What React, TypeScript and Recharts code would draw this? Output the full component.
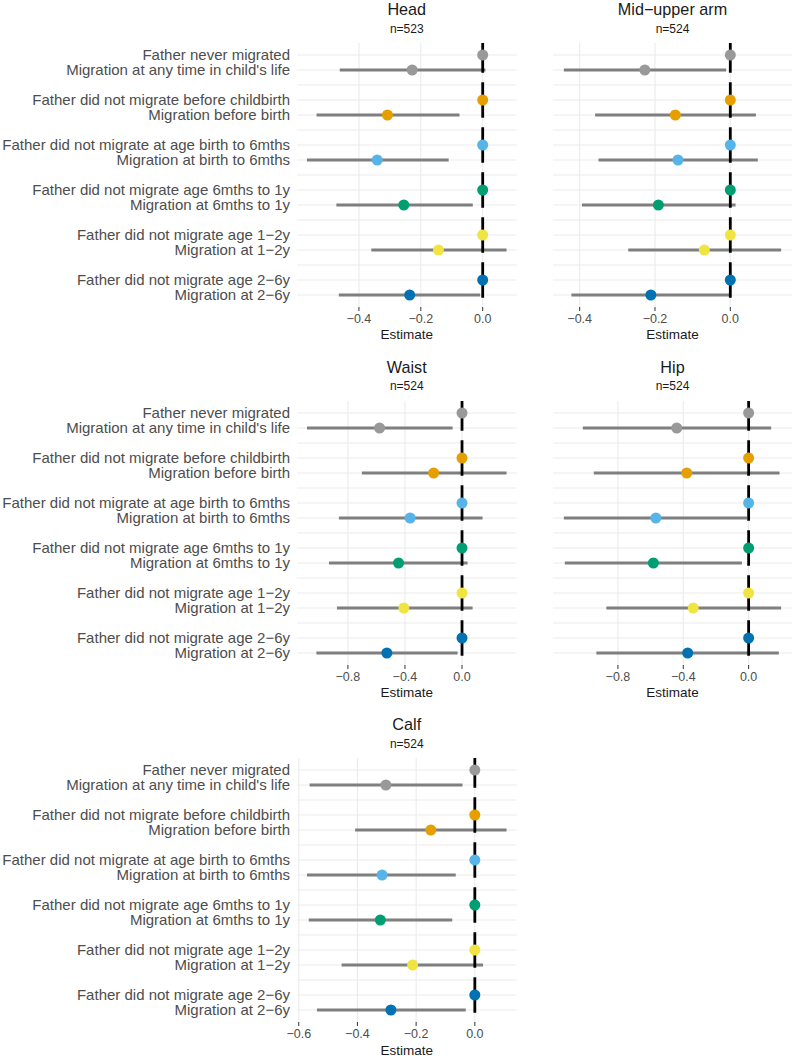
import React from 'react';
import { ScatterChart, Scatter, XAxis, YAxis, ReferenceLine } from 'recharts';

const FONT = "'Liberation Sans', Arial, Helvetica, sans-serif";

// Row labels: reference group and migration group for each comparison
const refLabels = [
  'Father never migrated',
  'Father did not migrate before childbirth',
  'Father did not migrate at age birth to 6mths',
  'Father did not migrate age 6mths to 1y',
  'Father did not migrate age 1\u22122y',
  'Father did not migrate age 2\u22126y',
];
const migLabels = [
  "Migration at any time in child's life",
  'Migration before birth',
  'Migration at birth to 6mths',
  'Migration at 6mths to 1y',
  'Migration at 1\u22122y',
  'Migration at 2\u22126y',
];
const groupColors = ['#999999', '#E69F00', '#56B4E9', '#009E73', '#F0E442', '#0072B2'];

// Head (n=523)
const headEst = [-0.228, -0.308, -0.341, -0.255, -0.143, -0.236];
const headLow = [-0.462, -0.537, -0.568, -0.473, -0.36, -0.465];
const headHigh = [0.009, -0.075, -0.11, -0.032, 0.077, -0.008];
const headTicks = [-0.4, -0.2, 0];

// Mid-upper arm (n=524)
const armEst = [-0.227, -0.146, -0.139, -0.191, -0.069, -0.211];
const armLow = [-0.442, -0.359, -0.35, -0.394, -0.271, -0.422];
const armHigh = [-0.011, 0.068, 0.073, 0.014, 0.135, -0.003];
const armTicks = [-0.4, -0.2, 0];

// Waist (n=524)
const waistEst = [-0.578, -0.199, -0.364, -0.445, -0.408, -0.527];
const waistLow = [-1.087, -0.702, -0.863, -0.933, -0.877, -1.021];
const waistHigh = [-0.066, 0.312, 0.144, 0.039, 0.074, -0.031];
const waistTicks = [-0.8, -0.4, 0];

// Hip (n=524)
const hipEst = [-0.44, -0.379, -0.568, -0.583, -0.339, -0.373];
const hipLow = [-1.015, -0.948, -1.131, -1.125, -0.871, -0.932];
const hipHigh = [0.138, 0.189, -0.01, -0.041, 0.199, 0.185];
const hipTicks = [-0.8, -0.4, 0];

// Calf (n=524)
const calfEst = [-0.303, -0.15, -0.316, -0.322, -0.212, -0.286];
const calfLow = [-0.563, -0.408, -0.572, -0.566, -0.454, -0.538];
const calfHigh = [-0.042, 0.108, -0.065, -0.077, 0.028, -0.031];
const calfTicks = [-0.6, -0.4, -0.2, 0];

const rowLabels: string[] = [];
refLabels.forEach((r, g) => {
  rowLabels.push(r);
  rowLabels.push(migLabels[g]);
  if (g < refLabels.length - 1) rowLabels.push('');
});

type PanelDef = {
  title: string;
  n: number;
  est: number[];
  low: number[];
  high: number[];
  ticks: number[];
  col: number;
  row: number;
};

const panels: PanelDef[] = [
  { title: 'Head', n: 523, est: headEst, low: headLow, high: headHigh, ticks: headTicks, col: 0, row: 0 },
  { title: 'Mid\u2212upper arm', n: 524, est: armEst, low: armLow, high: armHigh, ticks: armTicks, col: 1, row: 0 },
  { title: 'Waist', n: 524, est: waistEst, low: waistLow, high: waistHigh, ticks: waistTicks, col: 0, row: 1 },
  { title: 'Hip', n: 524, est: hipEst, low: hipLow, high: hipHigh, ticks: hipTicks, col: 1, row: 1 },
  { title: 'Calf', n: 524, est: calfEst, low: calfLow, high: calfHigh, ticks: calfTicks, col: 0, row: 2 },
];

const ROW_PITCH = 357.7;
const CHART_TOP = 35;
const MARGIN_TOP = 8;
const PLOT_H = 264;
const XAXIS_H = 30;
const CHART_H = MARGIN_TOP + PLOT_H + XAXIS_H;

const fmt = (v: number) => (Math.abs(v) < 1e-9 ? '0.0' : v.toFixed(1).replace('-', '\u2212'));

function paddedDomain(lo: number[], hi: number[]): [number, number] {
  const mn = Math.min(0, ...lo);
  const mx = Math.max(0, ...hi);
  const pad = (mx - mn) * 0.05;
  return [mn - pad, mx + pad];
}

function layout(p: PanelDef) {
  const left = p.col === 0 ? 0 : 553;
  const width = p.col === 0 ? 520 : 239;
  const yAxisW = p.col === 0 ? 297 : 0;
  const marginRight = p.col === 0 ? 3.5 : 0;
  const plotW = width - yAxisW - marginRight;
  const top = p.row * ROW_PITCH;
  return { left, width, yAxisW, marginRight, plotW, top, cx: left + yAxisW + plotW / 2 };
}

function YTick(props: any) {
  const { x, y, payload } = props;
  const label = rowLabels[Math.round(payload.value)];
  if (!label) return <g />;
  return (
    <text x={x} y={y} dy="0.36em" textAnchor="end" fill="#4D4D4D" fontSize={15} fontFamily={FONT}>
      {label}
    </text>
  );
}

function Dot(s: any) {
  const cx = s.cx ?? s.x + (s.width || 0) / 2;
  const cy = s.cy ?? s.y + (s.height || 0) / 2;
  return <circle cx={cx} cy={cy} r={5.5} fill={s.payload.color} />;
}

function Panel({ p }: { p: PanelDef }) {
  const L = layout(p);
  const domain = paddedDomain(p.low, p.high);
  const yDomain: [number, number] = [-0.8, rowLabels.length - 1 + 0.8];
  const dots = p.est.flatMap((e, g) => [
    { x: 0, y: 3 * g, color: groupColors[g] },
    { x: e, y: 3 * g + 1, color: groupColors[g] },
  ]);
  return (
    <div style={{ position: 'absolute', left: L.left, top: L.top + CHART_TOP, width: L.width, height: CHART_H }}>
      <ScatterChart
        width={L.width}
        height={CHART_H}
        margin={{ top: MARGIN_TOP, right: L.marginRight, bottom: 0, left: 0 }}
      >
        <XAxis
          type="number"
          dataKey="x"
          domain={domain}
          allowDataOverflow
          ticks={p.ticks}
          tickFormatter={fmt}
          interval={0}
          axisLine={false}
          tickSize={4}
          tickMargin={3}
          tickLine={{ stroke: '#333333' }}
          tick={{ fill: '#4D4D4D', fontSize: 12.5, fontFamily: FONT }}
          height={XAXIS_H}
        />
        <YAxis
          type="number"
          dataKey="y"
          domain={yDomain}
          reversed
          allowDataOverflow
          ticks={rowLabels.map((_, i) => i)}
          interval={0}
          width={L.yAxisW}
          hide={p.col !== 0}
          axisLine={false}
          tickLine={false}
          tickSize={0}
          tickMargin={7}
          tick={(tp: any) => <YTick {...tp} />}
        />
        {rowLabels.map((_, i) => (
          <ReferenceLine key={'h' + i} y={i} stroke="#EBEBEB" strokeWidth={1.1} ifOverflow="visible" />
        ))}
        {p.ticks.map((t) => (
          <ReferenceLine key={'v' + t} x={t} stroke="#EBEBEB" strokeWidth={1.1} ifOverflow="visible" />
        ))}
        {p.est.map((_, g) => (
          <ReferenceLine
            key={'ci' + g}
            segment={[
              { x: p.low[g], y: 3 * g + 1 },
              { x: p.high[g], y: 3 * g + 1 },
            ]}
            stroke="#7F7F7F"
            strokeWidth={3}
            ifOverflow="visible"
          />
        ))}
        <ReferenceLine
          segment={[
            { x: 0, y: yDomain[0] },
            { x: 0, y: yDomain[1] },
          ]}
          stroke="#000000"
          strokeWidth={2.8}
          strokeDasharray="13 9.5"
          strokeDashoffset={5.75}
          ifOverflow="visible"
        />
        <Scatter data={dots} isAnimationActive={false} shape={(s: any) => <Dot {...s} />} />
      </ScatterChart>
    </div>
  );
}

export default function App() {
  return (
    <div
      style={{
        position: 'absolute',
        left: 0,
        top: 0,
        width: 792,
        height: 1056,
        background: '#ffffff',
        fontFamily: FONT,
        overflow: 'hidden',
      }}
    >
      {panels.map((p) => (
        <Panel key={p.title} p={p} />
      ))}
      <svg width={792} height={1056} style={{ position: 'absolute', left: 0, top: 0, pointerEvents: 'none' }}>
        {panels.map((p) => {
          const L = layout(p);
          return (
            <g key={'t' + p.title} fontFamily={FONT} textAnchor="middle">
              <text x={L.cx} y={L.top + 14.8} fontSize={16.2} fill="#1A1A1A">
                {p.title}
              </text>
              <text x={L.cx} y={L.top + 32.6} fontSize={12} fill="#1A1A1A">
                {'n=' + p.n}
              </text>
              <text x={L.cx} y={L.top + 339.1} fontSize={13.5} fill="#1A1A1A">
                Estimate
              </text>
            </g>
          );
        })}
      </svg>
    </div>
  );
}
